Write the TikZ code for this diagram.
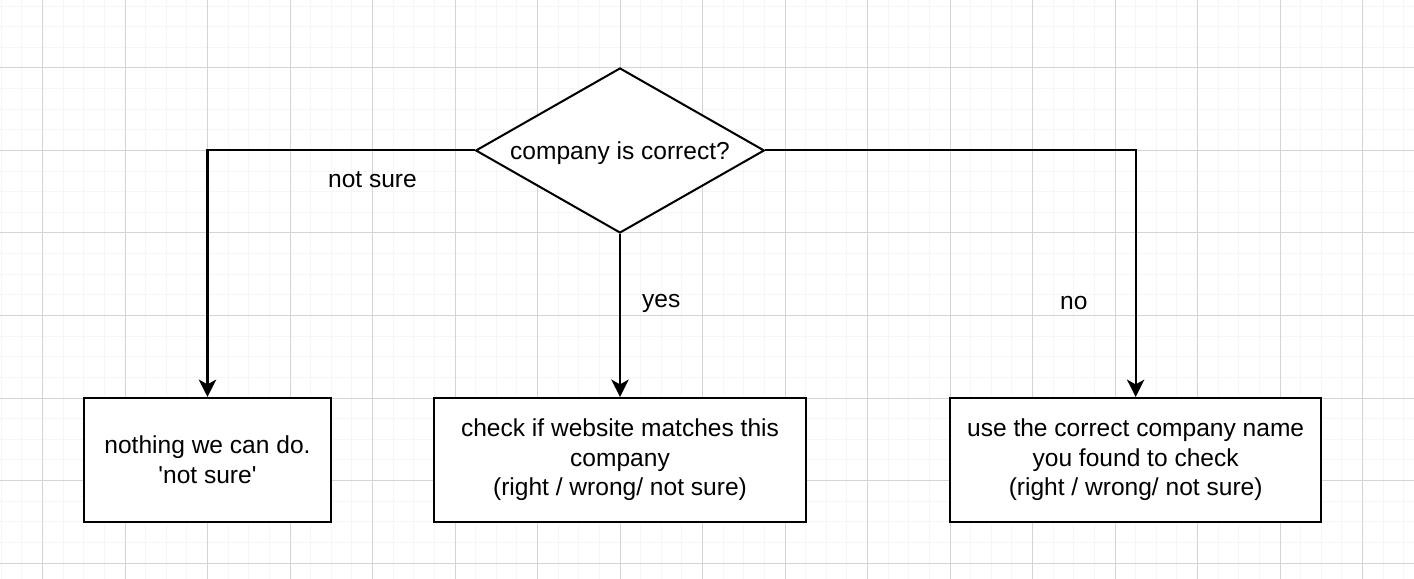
\documentclass[tikz,border=0pt]{standalone}
\usepackage{fontspec}
\setmainfont{Liberation Sans}
\usetikzlibrary{shapes.geometric, arrows.meta, positioning}
\definecolor{gridmajor}{RGB}{212, 212, 212}
\definecolor{gridminor}{RGB}{246, 246, 246}
\tikzset{
  flowbox/.style={draw=black, fill=white, line width=1.05pt, minimum width=4.5cm, minimum height=2.25cm, align=center, font=\fontsize{12.7}{15.3}\selectfont},
  decision/.style={draw=black, fill=white, diamond, aspect=1.745, line width=1.05pt, inner sep=0pt, minimum width=5.25cm, minimum height=3cm, text height=9.5pt, text depth=0pt, font=\fontsize{12.7}{15.3}\selectfont},
  flowarrow/.style={-{Stealth[length=9pt, width=9pt, inset=2.5pt]}, line width=1.05pt},
  edgelabel/.style={font=\fontsize{12.7}{15.3}\selectfont}
}

\begin{document}
\begin{tikzpicture}[x=1.5cm, y=1.5cm]
  % background grid
  \useasboundingbox (-0.515, -6.182) rectangle (16.624, 0.824);
  \fill[white] (-0.515, -6.182) rectangle (16.624, 0.824);
  \begin{scope}
    \clip (-0.515, -6.182) rectangle (16.624, 0.824);
    \draw[gridminor, line width=0.5pt] (-1, -7) grid[step=0.25] (17, 1);
    \draw[gridmajor, line width=0.5pt] (-1, -7) grid[step=1] (17, 1);
  \end{scope}

  % decision
  \node[decision] (correct) at (7, -1) {company is correct?};

  % outcomes
  \node[flowbox, minimum width=4.5cm] (nothing) at (2, -4.75) {nothing we can do.\\\textquotesingle not sure\textquotesingle};
  \node[flowbox, minimum width=6.75cm] (checksite) at (7, -4.75) {check if website matches this\\company\\(right / wrong/ not sure)};
  \node[flowbox, minimum width=6.75cm] (usename) at (13.25, -4.75) {use the correct company name\\you found to check\\(right / wrong/ not sure)};

  \draw[flowarrow] (correct.west) -| (nothing.north);
  \draw[flowarrow] (correct.south) -- (checksite.north);
  \draw[flowarrow] (correct.east) -| (usename.north);

  % edge labels
  \node[edgelabel] (lblnotsure) at (4, -1.35) {not sure};
  \node[edgelabel] (lblyes) at (7.5, -2.85) {yes};
  \node[edgelabel] (lblno) at (12.5, -2.85) {no};
\end{tikzpicture}
\end{document}
